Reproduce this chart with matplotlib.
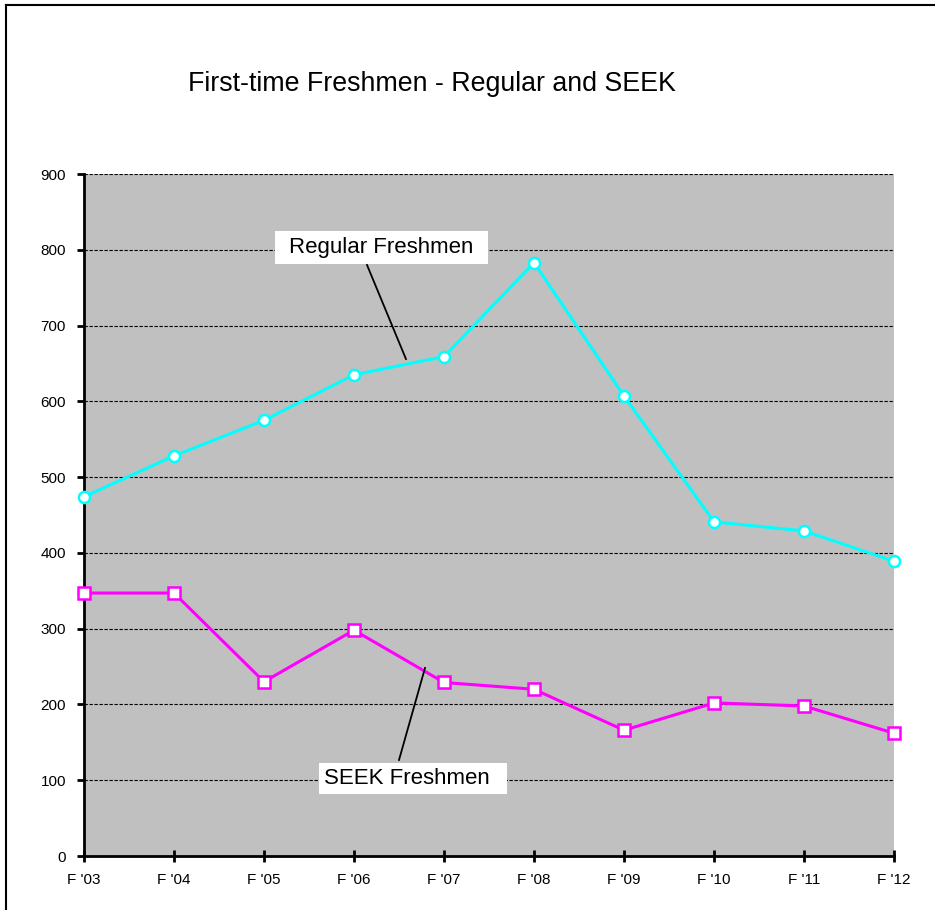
import matplotlib
matplotlib.use("Agg")
import matplotlib.pyplot as plt
from matplotlib.patches import Rectangle
from matplotlib.lines import Line2D

categories = ["F '03", "F '04", "F '05", "F '06", "F '07", "F '08", "F '09", "F '10", "F '11", "F '12"]
regular = [474, 528, 575, 635, 659, 783, 607, 441, 429, 389]
seek = [347, 347, 230, 298, 229, 220, 166, 202, 198, 162]
yticks = [0, 100, 200, 300, 400, 500, 600, 700, 800, 900]

plt.rcParams['font.family'] = ['Liberation Sans', 'DejaVu Sans']

fig = plt.figure(figsize=(9.35, 9.10), dpi=100)
fig.patch.set_facecolor('white')
ax = fig.add_axes([84/935, 54/910, 810/935, 682/910])
ax.set_facecolor('#C0C0C0')

x = list(range(len(categories)))
ax.plot(x, regular, color='#00FFFF', lw=2.2, marker='o', ms=8, mfc='white', mec='#00FFFF', mew=1.8, zorder=4, clip_on=False)
ax.plot(x, seek, color='#FF00FF', lw=2.2, marker='s', ms=8.5, mfc='white', mec='#FF00FF', mew=1.8, zorder=4, clip_on=False)

ax.set_xlim(0, len(categories) - 1)
ax.set_ylim(0, 900)
ax.set_xticks(x)
ax.set_xticklabels(categories, fontsize=11)
ax.set_yticks(yticks)
ax.set_yticklabels([str(v) for v in yticks], fontsize=11)
ax.yaxis.grid(True, color='black', linestyle=(0, (3, 1.5)), lw=0.8)
ax.set_axisbelow(True)
for s in ['top', 'right']:
    ax.spines[s].set_visible(False)
for s in ['left', 'bottom']:
    ax.spines[s].set_linewidth(2)
    ax.spines[s].set_color('black')
ax.tick_params(axis='x', direction='inout', length=9, width=2, pad=8)
ax.tick_params(axis='y', direction='out', length=5, width=2, pad=8)

# labels with leaders
ax.add_patch(Rectangle((0.2358, 0.868), 0.263, 0.0484, transform=ax.transAxes, facecolor='white', edgecolor='none', zorder=5))
ax.text(0.2358 + 0.263/2, 0.868 + 0.0484/2, "Regular Freshmen", transform=ax.transAxes, ha='center', va='center', fontsize=16, zorder=6)
ax.plot([0.3494, 0.3975], [0.8666, 0.7287], transform=ax.transAxes, color='black', lw=1.3, zorder=5)

ax.add_patch(Rectangle((0.290, 0.0909), 0.232, 0.0455, transform=ax.transAxes, facecolor='white', edgecolor='none', zorder=5))
ax.text(0.290 + 0.232/2 - 0.007, 0.0909 + 0.0455/2, "SEEK Freshmen", transform=ax.transAxes, ha='center', va='center', fontsize=16, zorder=6)
ax.plot([0.421, 0.3889], [0.2757, 0.1408], transform=ax.transAxes, color='black', lw=1.3, zorder=5)

fig.text(432/935, 1 - 84/910, "First-time Freshmen - Regular and SEEK", ha='center', va='center', fontsize=19.3)

# figure border (top and left)
fig.add_artist(Line2D([6/935, 1], [1 - 5/910, 1 - 5/910], transform=fig.transFigure, color='black', lw=1.5))
fig.add_artist(Line2D([6/935, 6/935], [0, 1 - 5/910], transform=fig.transFigure, color='black', lw=1.5))

fig.savefig('out.png', dpi=100)
